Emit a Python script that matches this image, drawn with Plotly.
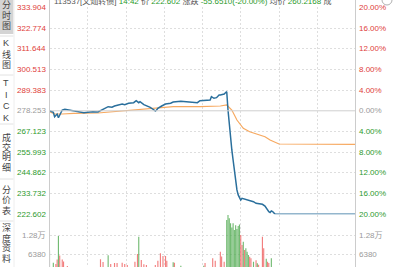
import plotly.graph_objects as go

W, H = 393, 267

# ---------------- data ----------------
prev_close = 278.253
price_ticks = [333.904, 322.774, 311.644, 300.513, 289.383, 278.253,
               267.123, 255.993, 244.862, 233.732, 222.602]
pct_ticks = ["20.00%", "16.00%", "12.00%", "8.00%", "4.00%", "0.00%",
             "4.00%", "8.00%", "12.00%", "16.00%", "20.00%"]
vol_ticks = [12760, 6380]
vol_tick_text = ["1.28万", "6380"]

price_min = [0, 3, 4, 6, 7, 8, 10, 12, 15, 19,
             23, 27, 30, 34, 38, 41, 44, 46, 49, 51,
             54, 57, 59, 62, 66, 68, 70, 71, 74, 76,
             79, 82, 83, 84, 85, 88, 91, 95, 97, 103,
             108, 113, 116, 118, 122, 126, 127, 129, 131, 133,
             134, 137, 138, 139, 140, 141, 142, 143, 144, 145,
             146, 147, 148, 149, 150, 151, 153, 155, 157, 160,
             162, 165, 167, 169, 171, 172, 173, 174, 175, 176,
             177, 240]
price_val = [278.31, 277.45, 275.08, 276.50, 274.54, 276.00, 278.68, 279.06, 278.68, 278.31,
             277.77, 277.23, 277.45, 277.77, 277.61, 278.68, 279.60, 280.46, 280.14, 280.84,
             281.37, 281.91, 281.54, 282.29, 282.61, 283.69, 282.61, 283.15, 281.54, 281.00,
             280.14, 278.68, 278.15, 278.68, 279.60, 280.84, 281.91, 282.29, 282.99, 283.36,
             283.15, 282.99, 282.61, 283.69, 283.69, 284.06, 285.84, 284.98, 285.30, 286.75,
             286.75, 287.29, 287.99, 288.52, 278.70, 270.60, 263.60, 257.20, 251.80, 246.40,
             239.97, 235.70, 233.00, 231.10, 230.30, 231.20, 230.80, 230.56, 229.90, 229.38,
             228.52, 228.41, 227.98, 227.06, 224.91, 224.00, 223.57, 224.38, 224.10, 223.14,
             222.602, 222.602]

avg_min = [0, 4, 10, 19, 38, 58, 71, 84, 97, 118, 134, 139, 143, 147, 152, 157, 164, 169, 173, 180, 240]
avg_val = [277.77, 276.53, 276.53, 276.91, 277.07, 278.31, 279.22, 279.92, 280.46, 280.50,
           280.84, 281.37, 278.68, 273.30, 268.84, 267.00, 265.24, 264.33, 262.55, 260.40, 260.22]

vol_min = [0, 3, 5, 6, 7, 8, 10, 11, 14,
           40, 42, 46, 48, 51, 53, 57, 59, 61,
           67, 69, 70, 72, 74, 76, 83, 85, 87, 89, 91, 92, 97, 98, 103,
           121, 122, 128, 130, 134, 135, 137,
           139, 140, 141, 142, 143, 144, 145, 146, 147, 148, 149,
           150, 151, 152, 153, 154, 155, 156, 157, 158, 160, 162, 163, 164,
           167, 168, 170, 171, 172, 174]
vol_val = [7790, 3690, 3260, 4770, 12660, 6110, 4770, 4100, 2590,
           4830, 3930, 6170, 3260, 3600, 3600, 3700, 3260, 2900,
           4030, 6620, 12430, 4600, 3160, 2920, 2920, 4370, 6850, 5940, 5940, 4370, 3830, 3690, 2690,
           2690, 3590, 5170, 4370, 7400, 5800, 4030,
           18000, 19700, 18600, 16900, 15500, 16900, 14700, 16300, 15000, 16000, 16500,
           13000, 9640, 10750, 7960, 8530, 7400, 6300, 5700, 5170, 4000, 4500, 3500, 3000,
           12420, 8530, 5000, 4030, 3600, 5170]
vol_up = [0, 0, 1, 1, 0, 1, 1, 1, 1,
          1, 1, 0, 1, 1, 1, 1, 1, 1,
          1, 1, 0, 1, 1, 1, 1, 1, 1, 1, 1, 1, 0, 1, 0,
          0, 1, 1, 1, 1, 1, 1,
          0, 0, 0, 0, 0, 0, 0, 0, 0, 0, 0,
          1, 1, 0, 1, 0, 0, 0, 1, 1, 0, 1, 0, 1,
          1, 1, 0, 1, 1, 0]

tabs = [("分时图", 5, 10.5), ("K线图", 43, 11), ("TICK", 83, 11.7),
        ("成交明细", 137, 10), ("分价表", 190, 10), ("深度资料", 228, 10)]
tab_separators = [36, 75, 124, 179, 221]

header_parts = [("113537[文灿转债] ", "#555555"), ("14:42 ", "#2a9a2a"), ("价 ", "#555555"),
                ("222.602 ", "#2a9a2a"), ("涨跌 ", "#555555"), ("-55.6510(-20.00%) ", "#2a9a2a"),
                ("均价 ", "#555555"), ("260.2168 ", "#2a9a2a"), ("成", "#555555")]

# ---------------- layout helpers ----------------
def px(x):
    return x / W

def py(y):
    return 1 - y / H

RED = "#e0403a"
GREEN = "#2e9a2e"
GRAY = "#9a9a9a"
FONT = "Liberation Sans, Noto Sans CJK SC"

x_dom = [px(49.5), px(355.5)]
price_dom = [py(214.3), py(7.3)]
vol_top_px, vol_bot_px = 214.5, 267
vol_zero_px, vol_per_px = 273.7, 6380 / 19.0
vol_range = [(vol_zero_px - vol_bot_px) * vol_per_px, (vol_zero_px - vol_top_px) * vol_per_px]

fig = go.Figure()
fig.add_trace(go.Scatter(x=avg_min, y=avg_val, mode="lines",
                         line=dict(color="#f7a960", width=1.2), xaxis="x", yaxis="y",
                         hoverinfo="skip"))
fig.add_trace(go.Scatter(x=price_min, y=price_val, mode="lines",
                         line=dict(color="#2a6f9c", width=1.5), xaxis="x", yaxis="y",
                         hoverinfo="skip"))
fig.add_trace(go.Bar(x=vol_min, y=vol_val,
                     marker=dict(color=["rgba(240,105,105,0.85)" if u else "rgba(80,170,80,0.8)" for u in vol_up],
                                 line=dict(width=0)),
                     xaxis="x2", yaxis="y2", width=0.9, hoverinfo="skip"))

grid = dict(showgrid=True, gridcolor="#dedede", griddash="2px,2px", gridwidth=1,
            zeroline=False, showticklabels=False, ticks="", showline=False)

fig.update_layout(
    width=W, height=H, margin=dict(l=0, r=0, t=0, b=0),
    paper_bgcolor="white", plot_bgcolor="white", showlegend=False,
    xaxis=dict(domain=x_dom, range=[0, 240], tickvals=[30, 60, 90, 120, 150, 180, 210],
               anchor="y", **grid),
    yaxis=dict(domain=price_dom, range=[price_ticks[-1], price_ticks[0]],
               tickvals=[v for v in price_ticks if v != prev_close], anchor="x", **grid),
    xaxis2=dict(domain=x_dom, range=[0, 240], tickvals=[30, 60, 90, 120, 150, 180, 210],
                anchor="y2", **grid),
    yaxis2=dict(domain=[0, py(vol_top_px)], range=vol_range, tickvals=vol_ticks,
                anchor="x2", **grid),
)

shapes = []
# prev close line
shapes.append(dict(type="line", xref="paper", yref="y", x0=x_dom[0], x1=x_dom[1],
                   y0=prev_close, y1=prev_close, line=dict(color="#cfcfcf", width=1)))
# plot borders
for xx in (49.5, 355.5):
    shapes.append(dict(type="line", xref="paper", yref="paper", x0=px(xx), x1=px(xx),
                       y0=0, y1=1, line=dict(color="#cccccc", width=1)))
# sidebar
shapes.append(dict(type="rect", xref="paper", yref="paper", x0=0, x1=px(13.5),
                   y0=py(34), y1=1, fillcolor="#d4d4d4", line=dict(width=0)))
for s in tab_separators:
    shapes.append(dict(type="line", xref="paper", yref="paper", x0=0, x1=px(13.5),
                       y0=py(s), y1=py(s), line=dict(color="#e2e2e2", width=1)))
shapes.append(dict(type="line", xref="paper", yref="paper", x0=px(14), x1=px(14),
                   y0=0, y1=1, line=dict(color="#eeeeee", width=1)))
# top-right button circle
shapes.append(dict(type="circle", xref="paper", yref="paper", x0=px(382), x1=px(392),
                   y0=py(5), y1=py(-5), line=dict(color="#b0b0b0", width=1)))
fig.update_layout(shapes=shapes)

ann = []
mid = len(price_ticks) // 2
for i, (v, t) in enumerate(zip(price_ticks, pct_ticks)):
    col = RED if i < mid else (GRAY if i == mid else GREEN)
    ann.append(dict(x=px(47.5), xref="paper", y=v, yref="y", text=f"{v:.3f}",
                    xanchor="right", yanchor="middle", showarrow=False,
                    font=dict(size=8, color=col, family=FONT)))
    ann.append(dict(x=px(357), xref="paper", y=v, yref="y", text=t,
                    xanchor="left", yanchor="middle", showarrow=False,
                    font=dict(size=8, color=col, family=FONT)))
for v, t in zip(vol_ticks, vol_tick_text):
    ann.append(dict(x=px(47.5), xref="paper", y=v, yref="y2", text=t,
                    xanchor="right", yanchor="middle", showarrow=False,
                    font=dict(size=8, color=GRAY, family=FONT)))
    ann.append(dict(x=px(357), xref="paper", y=v, yref="y2", text=t,
                    xanchor="left", yanchor="middle", showarrow=False,
                    font=dict(size=8, color=GRAY, family=FONT)))
for label, y0, step in tabs:
    for k, ch in enumerate(label):
        ann.append(dict(x=px(6.5), xref="paper", y=py(y0 + k * step), yref="paper", text=ch,
                        xanchor="center", yanchor="middle", showarrow=False,
                        font=dict(size=9, color="#444444", family=FONT)))
header = "".join(f'<span style="color:{c}">{t}</span>' for t, c in header_parts)
ann.append(dict(x=px(52), xref="paper", y=py(1.0), yref="paper", text=header,
                xanchor="left", yanchor="middle", showarrow=False,
                font=dict(size=8, color="#555555", family=FONT)))
fig.update_layout(annotations=ann)

fig.write_html("out.html")
